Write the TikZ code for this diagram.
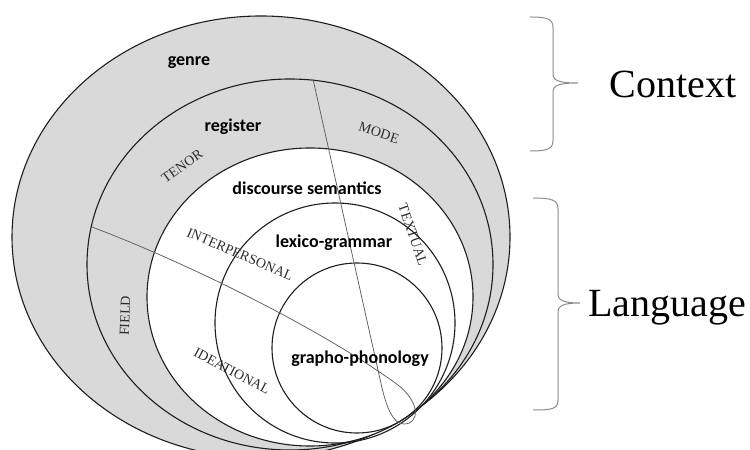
\documentclass[tikz,border=0pt]{standalone}
\usepackage{fontspec}
\setmainfont{Liberation Serif}
\newfontfamily\calib{Carlito}
\definecolor{ringgray}{RGB}{217,217,217}
\definecolor{edgecol}{RGB}{30,30,30}
\definecolor{divider}{RGB}{95,95,95}
\definecolor{bracegray}{RGB}{140,140,140}
\definecolor{labelgray}{RGB}{45,45,45}
\tikzset{
  ring/.style={draw=edgecol, line width=1.1bp},
  divline/.style={draw=divider, line width=0.75bp},
  stratum/.style={font=\calib\bfseries\fontsize{18bp}{21bp}\selectfont, text=black, inner sep=0pt, anchor=base},
  metafn/.style={font=\fontsize{14bp}{16bp}\selectfont, text=labelgray, inner sep=0pt},
  biglabel/.style={font=\fontsize{40bp}{46bp}\selectfont, text=black, inner sep=0pt, anchor=base},
  bracepath/.style={draw=bracegray, line width=1bp},
}
\begin{document}
\begin{tikzpicture}[x=1bp,y=-1bp]
\useasboundingbox (0,0) rectangle (750,450);
\clip (0,0) rectangle (750,450);
% strata
\fill[white] (0,0) rectangle (750,450);
\filldraw[ring, fill=ringgray] (261,237) ellipse [x radius=249bp, y radius=221bp];
\filldraw[ring, fill=ringgray] (290,264.5) ellipse [x radius=203bp, y radius=185.5bp];
\filldraw[ring, fill=white] (310,297) ellipse [x radius=163bp, y radius=149bp];
\draw[ring] (335,323) circle [radius=120bp];
\draw[ring] (357,348) circle [radius=85bp];
% dividing line with loop
\coordinate (fieldstart) at (92,227);
\coordinate (modestart) at (313,79);
\draw[divline] (fieldstart) .. controls (200,268) and (330,335) .. (398,385)
  .. controls (420,402) and (420,424) .. (404,424)
  .. controls (393,424) and (387,408) .. (382,388) -- (modestart);
% stratum labels
\node[stratum] (genre) at (189,66) {genre};
\node[stratum] (register) at (233,132) {register};
\node[stratum] (discsem) at (307,195) {discourse semantics};
\node[stratum] (lexgram) at (334,248) {lexico-grammar};
\node[stratum] (graphon) at (360,364) {grapho-phonology};
% metafunction labels
\node[metafn, rotate=-18] (mode) at (379,133) {MODE};
\node[metafn, rotate=35] (tenor) at (182,166) {TENOR};
\node[metafn, rotate=88] (field) at (125,316) {FIELD};
\node[metafn, rotate=-23] (interp) at (240,254) {INTERPERSONAL};
\node[metafn, rotate=-28] (ideat) at (232,371) {IDEATIONAL};
\node[metafn, rotate=-71] (textual) at (413,235) {TEXTUAL};
% braces
\draw[bracepath] (530,17) .. controls (548,17) and (553,19) .. (553,28) -- (553,74)
  .. controls (553,81) and (560,83) .. (578,83)
  .. controls (560,83) and (553,85) .. (553,92) -- (553,140)
  .. controls (553,149) and (548,151) .. (530,151);
\draw[bracepath] (533,198) .. controls (552,198) and (558,200) .. (558,209) -- (558,294)
  .. controls (558,301) and (565,303) .. (580,303)
  .. controls (565,303) and (558,305) .. (558,312) -- (558,400)
  .. controls (558,409) and (552,410) .. (533,410);
\node[biglabel] (context) at (673,98) {Context};
\node[biglabel] (language) at (667,317) {Language};
\end{tikzpicture}
\end{document}
